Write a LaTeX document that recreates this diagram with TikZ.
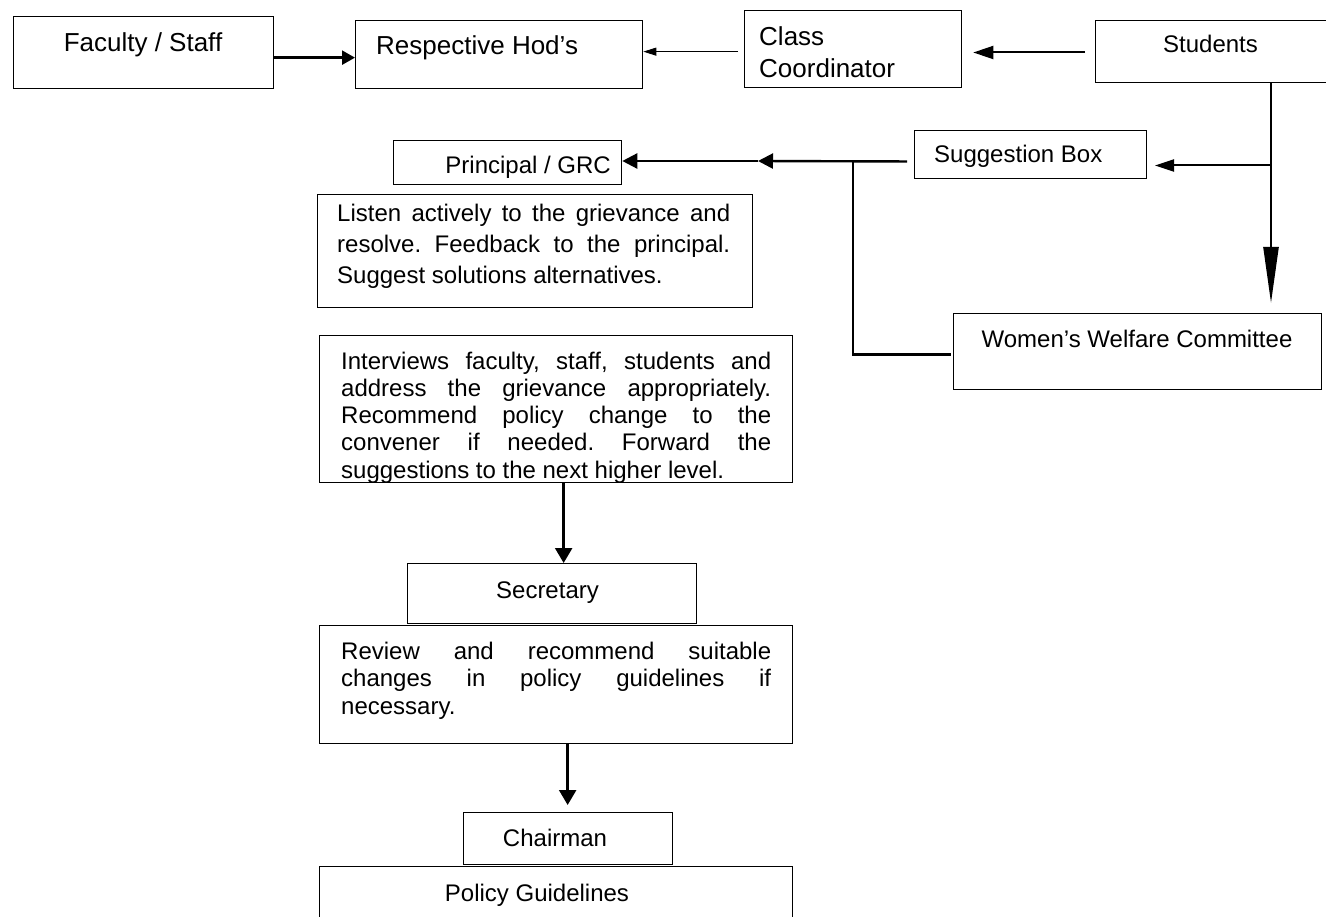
\documentclass[tikz,border=0pt]{standalone}
\usepackage{fontspec}
\setmainfont{Liberation Sans}
\usetikzlibrary{arrows.meta}
\tolerance=10000
\hyphenpenalty=10000
\frenchspacing
\begin{document}
\begin{tikzpicture}[x=1pt,y=-1pt,
  box/.style={draw, line width=1.3pt, inner sep=0pt, anchor=north west},
  thinbox/.style={box, line width=1pt},
  t26/.style={inner sep=0pt, font=\fontsize{26}{32}\selectfont},
  t24/.style={inner sep=0pt, font=\fontsize{24}{28}\selectfont},
  para/.style={inner sep=0pt, anchor=north west, align=justify,
    font={\fontsize{24}{#1}\selectfont}},
  conn/.style={line width=2.4pt},
  conntwo/.style={line width=2pt},
  connthin/.style={line width=1pt}
]
\useasboundingbox (0,0) rectangle (1326,917);

% boxes
\node[box, minimum width=260.3pt, minimum height=72pt] (fac) at (12.7,15.7) {};
\node[box, minimum width=287pt, minimum height=68pt] (hod) at (355,20) {};
\node[box, minimum width=217pt, minimum height=77pt] (cls) at (744,10) {};
\node[thinbox, minimum width=240pt, minimum height=62pt] (stu) at (1095,20) {};
\node[box, minimum width=228pt, minimum height=44pt] (prin) at (393,140) {};
\node[thinbox, minimum width=232pt, minimum height=48pt] (sug) at (914,130) {};
\node[box, minimum width=435pt, minimum height=113pt] (lis) at (317,194) {};
\node[box, minimum width=368pt, minimum height=76pt] (wwc) at (953,313) {};
\node[box, minimum width=473pt, minimum height=147pt] (intv) at (319,335) {};
\node[box, minimum width=289pt, minimum height=60pt] (sec) at (407,563) {};
\node[box, minimum width=473pt, minimum height=118pt] (rev) at (319,625) {};
\node[box, minimum width=209pt, minimum height=52pt] (chair) at (463,812) {};
\node[box, minimum width=473pt, minimum height=70pt] (pol) at (319,866) {};

% texts
\node[t26, anchor=base] (facT) at (143,52) {Faculty / Staff};
\node[t26, anchor=base west] (hodT) at (376,55) {Respective Hod’s};
\node[t26, anchor=north west, align=left] (clsT) at (759,26) {Class\\Coordinator};
\node[t24, anchor=base] (stuT) at (1210.5,53) {Students};
\node[t24, anchor=base east] (prinT) at (611,174) {Principal / GRC};
\node[t24, anchor=base west] (sugT) at (934,163) {Suggestion Box};
\node[t24, anchor=base] (wwcT) at (1137,348) {Women’s Welfare Committee};
\node[para=31, text width=393pt] (lisT) at (337,203.5)
  {Listen actively to the grievance and\linebreak resolve. Feedback to the principal.\linebreak Suggest solutions alternatives.};
\node[para=27.25, text width=430pt] (intvT) at (341,351.5)
  {Interviews faculty, staff, students and\linebreak address the grievance appropriately.\linebreak Recommend policy change to the\linebreak convener if needed. Forward the\linebreak suggestions to the next higher level.};
\node[t24, anchor=base] (secT) at (547.5,598) {Secretary};
\node[para=27.5, text width=430pt] (revT) at (341,641.5)
  {Review and recommend suitable\linebreak changes in policy guidelines if\linebreak necessary.};
\node[t24, anchor=base] (chairT) at (555,846) {Chairman};
\node[t24, anchor=base] (polT) at (537,901) {Policy Guidelines};

% connectors
\coordinate (a1) at ([yshift=-5.3pt]fac.east);
\draw[conn, -{Triangle[length=13pt,width=14pt]}] (a1) -- (a1 -| hod.west);

\coordinate (a2) at ([yshift=-2.5pt]cls.west);
\draw[connthin, shorten <=6pt, -{Triangle[length=13pt,width=8pt]}] (a2) -- (a2 -| hod.east);

\coordinate (a3) at ([yshift=-1pt]stu.west);
\draw[conntwo, shorten <=10pt, shorten >=11pt, -{Triangle[length=20pt,width=13pt]}] (a3) -- (a3 -| cls.east);

\coordinate (vEnd) at (1271,303);
\draw[conn, -{Triangle[length=56pt,width=15pt]}] (vEnd |- stu.south) -- (vEnd);

\coordinate (a4) at ([yshift=-11pt]sug.east);
\draw[conntwo, shorten >=8pt, -{Triangle[length=19pt,width=12pt]}] (vEnd |- a4) -- (a4);

\coordinate (a5) at ([yshift=-7pt]sug.west);
\coordinate (mid) at (758,161);
\coordinate (jn) at (853,161);
\draw[conn, shorten <=7pt, -{Triangle[length=15pt,width=15pt]}] (a5) -- (mid);
\draw[conn, -{Triangle[length=15pt,width=15pt]}] (mid) -- (mid -| prin.east);

\coordinate (a6) at ([yshift=-3pt]wwc.west);
\draw[conn, shorten >=2pt] (jn) |- (a6);

\coordinate (a7) at ([xshift=7.5pt]intv.south);
\draw[conn, -{Triangle[length=15pt,width=17pt]}] (a7) -- (a7 |- sec.north);

\coordinate (a8) at ([xshift=11.5pt]rev.south);
\draw[conn, shorten >=7pt, -{Triangle[length=15pt,width=17pt]}] (a8) -- (a8 |- chair.north);
\end{tikzpicture}
\end{document}
